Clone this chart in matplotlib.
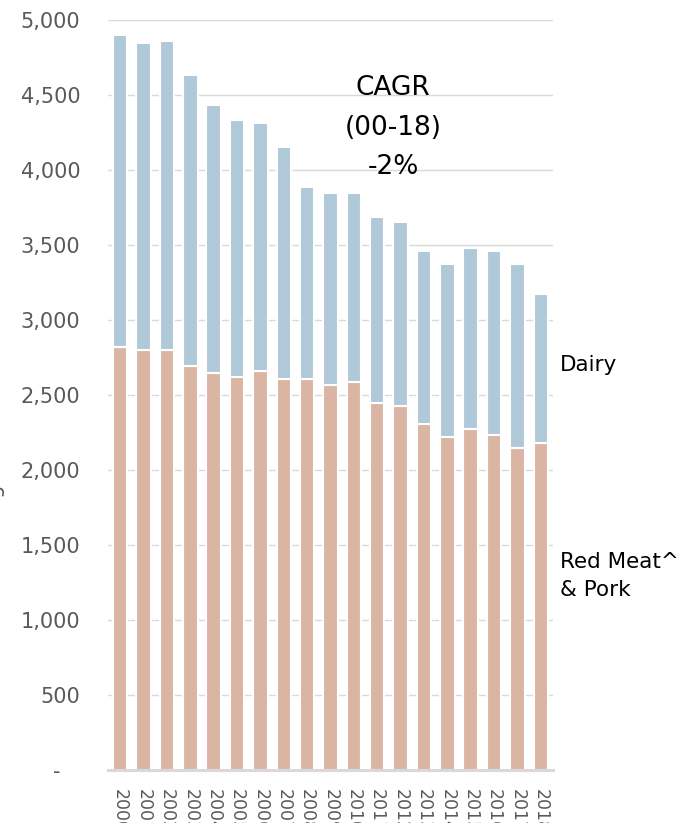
import matplotlib
matplotlib.use("Agg")
import matplotlib.pyplot as plt
import numpy as np
from matplotlib.ticker import FuncFormatter

years = [str(y) for y in range(2000, 2019)]
red_meat_pork = [2818, 2802, 2802, 2696, 2644, 2622, 2660, 2604, 2604, 2569,
                 2589, 2444, 2429, 2304, 2218, 2271, 2233, 2144, 2180]
total = [4900, 4844, 4862, 4633, 4436, 4331, 4311, 4153, 3887, 3849,
         3849, 3689, 3653, 3460, 3371, 3478, 3460, 3371, 3173]
dairy = [t - m for t, m in zip(total, red_meat_pork)]

meat_color = "#dbb5a3"
dairy_color = "#b0c9d9"
grid_color = "#d9d9d9"
tick_color = "#595959"

plt.rcParams['font.family'] = ['DejaVu Sans']

fig = plt.figure(figsize=(6.76, 8.23), dpi=100)
ax = fig.add_axes([108/676, 1-770/823, (553-108)/676, (770-20)/823])

x = np.arange(len(years))
ax.bar(x, red_meat_pork, width=0.62, color=meat_color, edgecolor="white",
       linewidth=1.5, zorder=3)
ax.bar(x, dairy, bottom=red_meat_pork, width=0.62, color=dairy_color,
       edgecolor="white", linewidth=1.5, zorder=3)

ax.set_xlim(-0.52, len(years) - 0.48)
ax.set_ylim(0, 5000)
ax.set_yticks(np.arange(0, 5001, 500))
ax.yaxis.set_major_formatter(FuncFormatter(lambda v, p: "-   " if v == 0 else f"{int(v):,}"))
ax.grid(axis="y", color=grid_color, linewidth=1.0, zorder=0)
ax.axhline(0, color=grid_color, linewidth=2.2, zorder=4, clip_on=False)
for s in ax.spines.values():
    s.set_visible(False)

ax.tick_params(axis="y", length=0, pad=20, labelsize=15, labelcolor=tick_color)
ax.set_xticks(x)
ax.set_xticklabels(years, rotation=270, fontsize=12.5, color=tick_color)
ax.tick_params(axis="x", length=0, pad=14)

# CAGR annotation
for txt, yy in [("CAGR", 88), ("(00-18)", 128), ("-2%", 167)]:
    fig.text(393/676, 1 - yy/823, txt, ha="center", va="center",
             fontsize=19, color="black")

# Series labels
fig.text(560/676, 1 - 365/823, "Dairy", ha="left", va="center",
         fontsize=15.5, color="black")
fig.text(560/676, 1 - 562/823, "Red Meat^", ha="left", va="center",
         fontsize=15.5, color="black")
fig.text(560/676, 1 - 590/823, "& Pork", ha="left", va="center",
         fontsize=15.5, color="black")

# partially visible axis title at far left
fig.text(3/676, 0.414, "Kilograms", rotation=90, ha="right", va="center",
         fontsize=15, color=tick_color)

fig.savefig("out.png", dpi=100)
